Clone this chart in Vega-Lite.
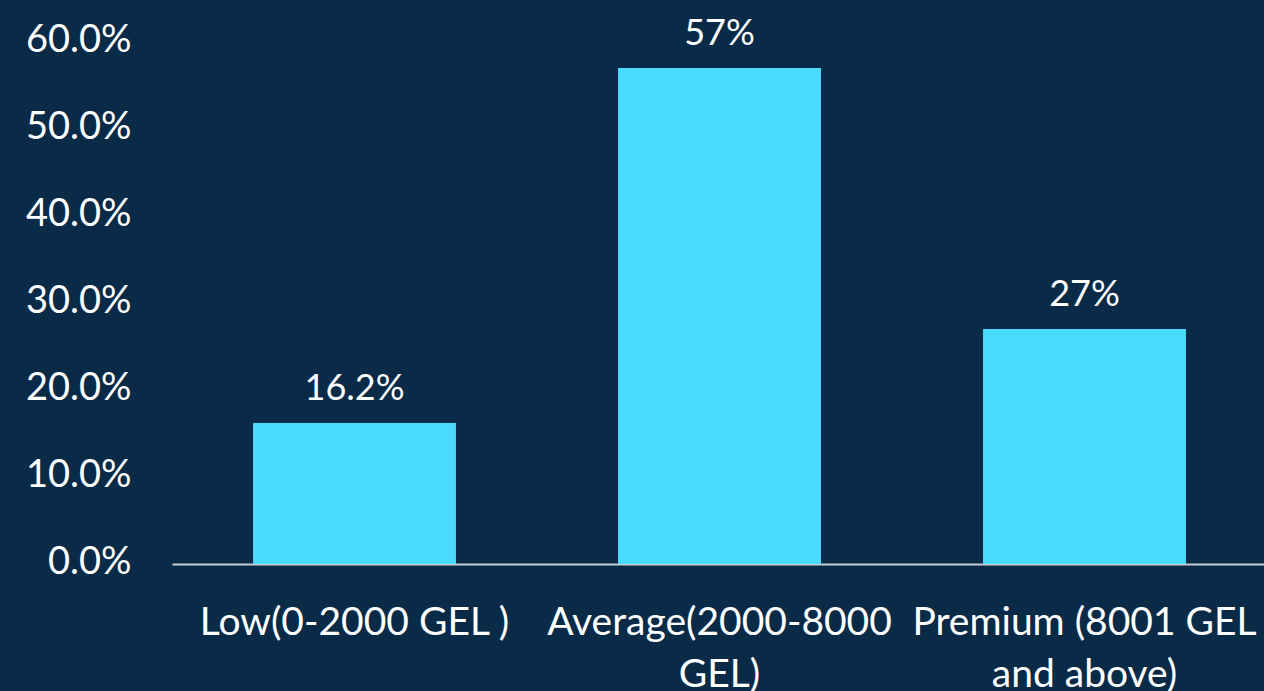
{
  "$schema": "https://vega.github.io/schema/vega-lite/v6.json",
  "width": 1095,
  "height": 522,
  "autosize": {"type": "none"},
  "padding": {"left": 172, "top": 42, "right": 0, "bottom": 127},
  "background": "#092b48",
  "config": {
    "view": {"stroke": null},
    "font": "Lato"
  },
  "data": {
    "values": [
      {"segment": "Low(0-2000 GEL )", "share": 0.162, "label": "16.2%"},
      {"segment": "Average(2000-8000 GEL)", "share": 0.57, "label": "57%"},
      {"segment": "Premium (8001 GEL and above)", "share": 0.27, "label": "27%"}
    ]
  },
  "encoding": {
    "x": {
      "field": "segment",
      "type": "nominal",
      "sort": null,
      "scale": {"paddingInner": 0.444, "paddingOuter": 0.222},
      "axis": {
        "title": null,
        "labelAngle": 0,
        "labelColor": "#ffffff",
        "labelFontSize": 39,
        "labelPadding": 39,
        "labelLineHeight": 52,
        "labelLimit": 0,
        "labelOverlap": false,
        "ticks": false,
        "domainColor": "#c9cdd2",
        "domainWidth": 2,
        "labelExpr": "datum.value == 'Average(2000-8000 GEL)' ? ['Average(2000-8000', 'GEL)'] : datum.value == 'Premium (8001 GEL and above)' ? ['Premium (8001 GEL', 'and above)'] : datum.value"
      }
    },
    "y": {
      "field": "share",
      "type": "quantitative",
      "scale": {"domain": [0, 0.6], "nice": false},
      "axis": {
        "title": null,
        "format": ".1%",
        "values": [0, 0.1, 0.2, 0.3, 0.4, 0.5, 0.6],
        "labelColor": "#ffffff",
        "labelFontSize": 38,
        "labelPadding": 41,
        "labelOffset": -2,
        "ticks": false,
        "domain": false,
        "grid": false
      }
    }
  },
  "layer": [
    {"mark": {"type": "bar", "color": "#4adafb"}},
    {
      "mark": {"type": "text", "color": "#ffffff", "fontSize": 36, "baseline": "bottom", "dy": -15},
      "encoding": {"text": {"field": "label"}}
    }
  ]
}
